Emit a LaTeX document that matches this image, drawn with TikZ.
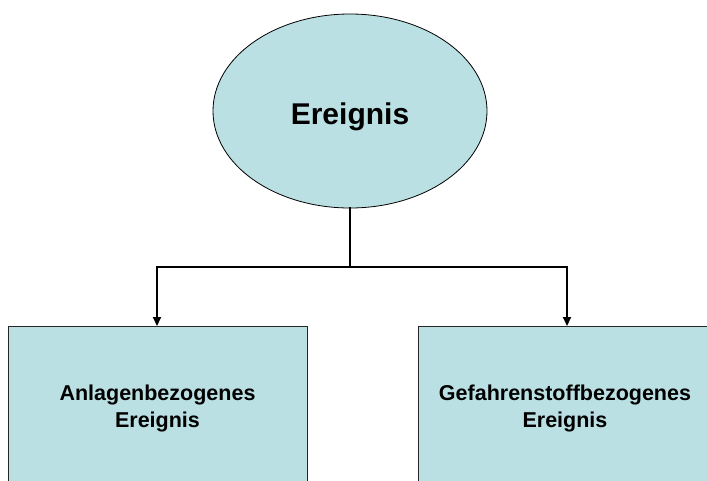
\documentclass[tikz,border=0pt]{standalone}
\usepackage{fontspec}
\setmainfont{Liberation Sans}
\usetikzlibrary{shapes.geometric,arrows.meta}
\definecolor{paleteal}{RGB}{187,224,227}
\begin{document}
\begin{tikzpicture}[x=1pt,y=-1pt,
  eventshape/.style={ellipse,draw=black,line width=0.8pt,fill=paleteal,
    minimum width=274pt,minimum height=194pt,inner sep=0pt,
    font=\fontsize{30}{34}\selectfont\bfseries},
  typebox/.style={rectangle,draw=black!85,line width=0.9pt,fill=paleteal,
    minimum height=164pt,inner sep=0pt,align=center,
    font=\fontsize{21.5}{27}\selectfont\bfseries},
  link/.style={line width=2pt,line cap=rect},
  tip/.style={line width=2pt,-{Triangle[width=8pt,length=9pt]}}]
\useasboundingbox (0,0) rectangle (707,480);
\clip (0,0) rectangle (707,480);
% top event, baseline placed 13pt below the ellipse centre
\node[eventshape] (event) at (350,111)
  {\makebox[0pt]{\raisebox{-13pt}[0pt][0pt]{Ereignis}}};
% the two kinds of events
\node[typebox,minimum width=299pt,anchor=north] (plant) at (157.5,326)
  {\raisebox{1pt}{Anlagenbezogenes}\\\raisebox{1pt}{Ereignis}};
\node[typebox,minimum width=294pt,anchor=north] (hazmat) at (565,326)
  {\raisebox{1pt}{Gefahrenstoffbezogenes}\\\raisebox{1pt}{Ereignis}};
% branching connector
\coordinate (fork) at (350,267);
\coordinate (plantin) at (157,326);
\coordinate (hazmatin) at (567,326);
\draw[link] (event.south) -- (fork);
\draw[tip] (fork) -| (plantin);
\draw[tip] (fork) -| (hazmatin);
\end{tikzpicture}
\end{document}
